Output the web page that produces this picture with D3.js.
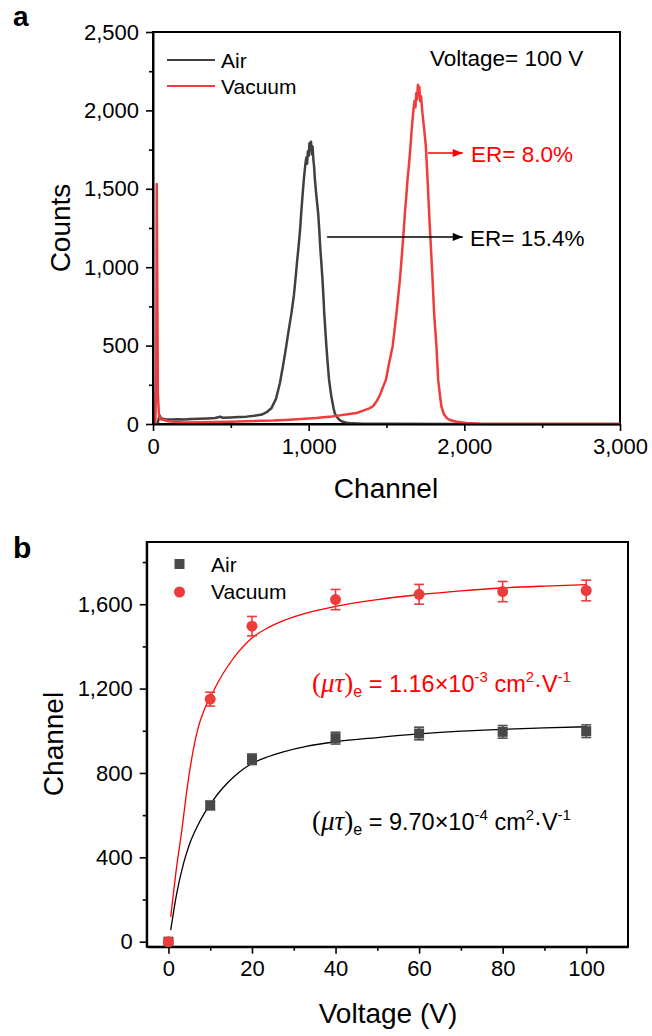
<!DOCTYPE html>
<html><head><meta charset="utf-8">
<script src="https://cdn.jsdelivr.net/npm/d3@7"></script>
<style>
html,body{margin:0;padding:0;background:#fff;}
svg{display:block;font-family:"Liberation Sans",Arial,sans-serif;}
</style></head>
<body>
<svg id="chart" width="652" height="1036"></svg>
<script>
// ---------- Panel a data (Channel, Counts) ----------
const airSpectrum = [[0,0],[30,5],[42,55],[50,40],[60,33],[80,30],[120,28],[160,30],[200,29],[250,32],[300,33],[350,35],[400,38],[430,46],[450,40],[500,42],[550,44],[600,47],[650,52],[700,60],[730,75],[760,100],[790,160],[815,260],[835,370],[855,490],[872,600],[890,710],[905,820],[915,920],[925,1030],[935,1130],[945,1240],[952,1345],[960,1450],[969,1560],[978,1650],[985,1700],[990,1660],[995,1740],[1000,1710],[1005,1790],[1010,1760],[1015,1800],[1020,1720],[1025,1770],[1030,1690],[1035,1640],[1040,1560],[1050,1450],[1061,1345],[1068,1240],[1074,1131],[1082,1020],[1089,919],[1095,810],[1100,707],[1107,600],[1114,493],[1122,390],[1131,281],[1145,180],[1160,100],[1168,68],[1185,40],[1200,25],[1220,14],[1243,8],[1280,4],[1350,2],[1500,1],[2000,0],[3000,0]];
const vacuumSpectrum = [[0,0],[15,0],[21,300],[24,1530],[27,1000],[31,200],[38,60],[48,30],[70,25],[100,18],[150,12],[200,10],[300,11],[400,13],[500,15],[600,18],[700,20],[772,22],[850,26],[950,32],[1050,38],[1093,43],[1150,48],[1200,55],[1250,62],[1308,70],[1350,85],[1390,100],[1415,115],[1440,150],[1460,190],[1479,240],[1496,281],[1515,380],[1539,493],[1552,600],[1564,706],[1575,810],[1586,919],[1595,1030],[1603,1131],[1611,1240],[1618,1344],[1627,1450],[1635,1557],[1645,1660],[1654,1769],[1662,1880],[1671,1982],[1680,2060],[1686,2020],[1691,2110],[1696,2070],[1702,2163],[1707,2110],[1711,2150],[1716,2060],[1722,2090],[1731,1982],[1742,1880],[1753,1769],[1764,1557],[1774,1344],[1785,1131],[1796,919],[1806,706],[1821,493],[1832,281],[1845,170],[1853,110],[1870,60],[1890,35],[1907,26],[1950,14],[2013,6],[2100,2],[2200,0],[3000,0]];
const aXTicks = [0,1000,2000,3000];
const aYTicks = [0,500,1000,1500,2000,2500];

// ---------- Panel b data ----------
const voltages = [0,10,20,40,60,80,100];
const airChannel = [0,646,865,965,987,995,998];
const airErr = [0,20,25,28,30,30,30];
const vacChannel = [0,1150,1496,1622,1647,1660,1665];
const vacErr = [0,33,46,48,47,48,49];
const airFit = [[0.55,55],[2,230],[3.6,370],[5,460],[6.8,543],[8.5,605],[10,650],[12,705],[14,750],[17,805],[20,845],[24,878],[27.5,900],[33,926],[40,948],[50,968],[60,985],[70,998],[80,1007],[90,1014],[100,1019]];
const vacFit = [[0.55,118],[1.8,330],[3.2,528],[4.6,745],[5.5,860],[6.3,945],[7.2,1020],[8.2,1080],[9,1120],[10,1157],[12,1235],[14,1300],[17,1380],[20,1440],[24,1490],[27.5,1522],[33,1558],[40,1590],[50,1622],[60,1645],[70,1663],[80,1677],[90,1686],[100,1693]];
const bXTicks = [0,20,40,60,80,100];
const bYTicks = [0,400,800,1200,1600];

const svg = d3.select("#chart");
const BLACK = "#404040", RED = "#f03c3c";
const fmt = d3.format(",");

// ================= Panel a =================
const ax = d3.scaleLinear().domain([0,3000]).range([153,620]);
const ay = d3.scaleLinear().domain([0,2500]).range([424,32]);
const ga = svg.append("g");

ga.append("rect").attr("x",ax(0)).attr("y",ay(2500)).attr("width",ax(3000)-ax(0)).attr("height",ay(0)-ay(2500))
  .attr("fill","none").attr("stroke","#000").attr("stroke-width",2);

const lineA = d3.line().x(d=>ax(d[0])).y(d=>ay(d[1]));
ga.append("path").datum(airSpectrum).attr("d",lineA).attr("fill","none").attr("stroke",BLACK).attr("stroke-width",2.5).attr("stroke-linejoin","round");
ga.append("path").datum(vacuumSpectrum).attr("d",lineA).attr("fill","none").attr("stroke",RED).attr("stroke-width",2.5).attr("stroke-linejoin","round");

function styleAxis(g){
  g.select(".domain").attr("stroke","#000").attr("stroke-width",2);
  g.selectAll(".tick line").attr("stroke","#000").attr("stroke-width",1.6);
  g.selectAll(".tick text").attr("font-size",22).attr("fill","#000").attr("font-family","Liberation Sans, Arial, sans-serif");
}
function minor(g){ g.select(".domain").remove(); g.selectAll(".tick line").attr("stroke","#000").attr("stroke-width",1.6); }

const axA = ga.append("g").attr("transform",`translate(0,${ay(0)})`)
  .call(d3.axisBottom(ax).tickValues(aXTicks).tickFormat(fmt).tickSize(7).tickPadding(7).tickSizeOuter(0));
styleAxis(axA);
ga.append("g").attr("transform",`translate(0,${ay(0)})`)
  .call(d3.axisBottom(ax).tickValues([500,1500,2500]).tickFormat("").tickSize(4).tickSizeOuter(0)).call(minor);
const ayA = ga.append("g").attr("transform",`translate(${ax(0)},0)`)
  .call(d3.axisLeft(ay).tickValues(aYTicks).tickFormat(fmt).tickSize(7).tickPadding(7).tickSizeOuter(0));
styleAxis(ayA);
ga.append("g").attr("transform",`translate(${ax(0)},0)`)
  .call(d3.axisLeft(ay).tickValues([250,750,1250,1750,2250]).tickFormat("").tickSize(4).tickSizeOuter(0)).call(minor);

ga.append("text").attr("x",386).attr("y",498).attr("text-anchor","middle").attr("font-size",28).text("Channel");
ga.append("text").attr("transform","translate(70,228) rotate(-90)").attr("text-anchor","middle").attr("font-size",28).text("Counts");
svg.append("text").attr("x",13).attr("y",26).attr("font-size",28).attr("font-weight","bold").text("a");

const legA = [{name:"Air",c:BLACK,y:60},{name:"Vacuum",c:RED,y:86}];
legA.forEach(d=>{
  ga.append("line").attr("x1",167).attr("x2",215).attr("y1",d.y).attr("y2",d.y).attr("stroke",d.c).attr("stroke-width",2);
  ga.append("text").attr("x",221).attr("y",d.y+7.5).attr("font-size",21).text(d.name);
});
ga.append("text").attr("x",430).attr("y",66).attr("font-size",22.5).text("Voltage= 100 V");

const defs = svg.append("defs");
[["arrR","#ff0000"],["arrK","#000"]].forEach(([id,c])=>{
  defs.append("marker").attr("id",id).attr("viewBox","0 0 10 8").attr("refX",10).attr("refY",4)
    .attr("markerWidth",11).attr("markerHeight",8).attr("markerUnits","userSpaceOnUse").attr("orient","auto")
    .append("path").attr("d","M0,0L10,4L0,8Z").attr("fill",c);
});
ga.append("line").attr("x1",ax(1766)).attr("x2",ax(1990)).attr("y1",ay(1728)).attr("y2",ay(1728))
  .attr("stroke","#ff0000").attr("stroke-width",1.5).attr("marker-end","url(#arrR)");
ga.append("text").attr("x",471).attr("y",162).attr("font-size",22.5).attr("fill","#ff0000").text("ER= 8.0%");
ga.append("line").attr("x1",ax(1118)).attr("x2",ax(1990)).attr("y1",ay(1193)).attr("y2",ay(1193))
  .attr("stroke","#000").attr("stroke-width",1.5).attr("marker-end","url(#arrK)");
ga.append("text").attr("x",470).attr("y",246).attr("font-size",22.5).attr("fill","#000").text("ER= 15.4%");

// ================= Panel b =================
const bx = d3.scaleLinear().domain([-5.2,110]).range([146.7,628]);
const by = d3.scaleLinear().domain([-23.7,1895]).range([946.7,542]);
const gb = svg.append("g");
gb.append("rect").attr("x",bx(-5.2)).attr("y",by(1895)).attr("width",bx(110)-bx(-5.2)).attr("height",by(-23.7)-by(1895))
  .attr("fill","none").attr("stroke","#000").attr("stroke-width",2);

const bxA = gb.append("g").attr("transform",`translate(0,${by(-23.7)})`)
  .call(d3.axisBottom(bx).tickValues(bXTicks).tickSize(7).tickPadding(7).tickSizeOuter(0));
styleAxis(bxA);
gb.append("g").attr("transform",`translate(0,${by(-23.7)})`)
  .call(d3.axisBottom(bx).tickValues([10,30,50,70,90]).tickFormat("").tickSize(4).tickSizeOuter(0)).call(minor);
const byA = gb.append("g").attr("transform",`translate(${bx(-5.2)},0)`)
  .call(d3.axisLeft(by).tickValues(bYTicks).tickFormat(fmt).tickSize(7).tickPadding(7).tickSizeOuter(0));
styleAxis(byA);
gb.append("g").attr("transform",`translate(${bx(-5.2)},0)`)
  .call(d3.axisLeft(by).tickValues([200,600,1000,1400,1800]).tickFormat("").tickSize(4).tickSizeOuter(0)).call(minor);

gb.append("text").attr("x",388).attr("y",1023).attr("text-anchor","middle").attr("font-size",28).text("Voltage (V)");
gb.append("text").attr("transform","translate(63,744) rotate(-90)").attr("text-anchor","middle").attr("font-size",28).text("Channel");
svg.append("text").attr("x",13).attr("y",558).attr("font-size",30).attr("font-weight","bold").text("b");

const lineB = d3.line().x(d=>bx(d[0])).y(d=>by(d[1])).curve(d3.curveMonotoneX);
gb.append("path").datum(airFit).attr("d",lineB).attr("fill","none").attr("stroke","#000").attr("stroke-width",1.3);
gb.append("path").datum(vacFit).attr("d",lineB).attr("fill","none").attr("stroke","#ff0000").attr("stroke-width",1.3);

function errBars(vals, errs, color){
  const g = gb.append("g").attr("stroke",color).attr("stroke-width",1.6);
  voltages.forEach((v,i)=>{
    if(!errs[i]) return;
    const x = bx(v), y1 = by(vals[i]-errs[i]), y2 = by(vals[i]+errs[i]);
    g.append("line").attr("x1",x).attr("x2",x).attr("y1",y1).attr("y2",y2);
    g.append("line").attr("x1",x-5).attr("x2",x+5).attr("y1",y1).attr("y2",y1);
    g.append("line").attr("x1",x-5).attr("x2",x+5).attr("y1",y2).attr("y2",y2);
  });
}
errBars(airChannel, airErr, "#505050");
gb.append("g").selectAll("rect").data(voltages).join("rect")
  .attr("x",d=>bx(d)-5).attr("y",(d,i)=>by(airChannel[i])-5).attr("width",10).attr("height",10).attr("fill","#484848");
errBars(vacChannel, vacErr, "#ee3b3b");
gb.append("g").selectAll("circle").data(voltages).join("circle")
  .attr("cx",d=>bx(d)).attr("cy",(d,i)=>by(vacChannel[i])).attr("r",5.5).attr("fill","#ee3b3b");

gb.append("rect").attr("x",174.5).attr("y",559).attr("width",10).attr("height",10).attr("fill","#484848");
gb.append("text").attr("x",211).attr("y",572).attr("font-size",21).text("Air");
gb.append("circle").attr("cx",179.5).attr("cy",592).attr("r",5.5).attr("fill","#ee3b3b");
gb.append("text").attr("x",211).attr("y",598.5).attr("font-size",21).text("Vacuum");

function mutau(x, y, color, mant, exp){
  const t = gb.append("text").attr("x",x).attr("y",y).attr("fill",color).attr("font-size",23.5);
  const serif = "Liberation Serif, Times New Roman, serif";
  t.append("tspan").attr("font-family",serif).attr("font-size",27).text("(");
  t.append("tspan").attr("font-family",serif).attr("font-style","italic").attr("font-size",27).text("μτ");
  t.append("tspan").attr("font-family",serif).attr("font-size",27).text(")");
  t.append("tspan").attr("font-size",16).attr("dy",5).text("e");
  t.append("tspan").attr("dy",-5).text(" = " + mant + "×10");
  t.append("tspan").attr("font-size",15).attr("dy",-10).text(exp);
  t.append("tspan").attr("dy",10).text(" cm");
  t.append("tspan").attr("font-size",15).attr("dy",-10).text("2");
  t.append("tspan").attr("dy",10).text("·V");
  t.append("tspan").attr("font-size",15).attr("dy",-10).text("-1");
}
mutau(312, 692, "#ff0000", "1.16", "-3");
mutau(312, 830, "#000", "9.70", "-4");
</script>
</body></html>
